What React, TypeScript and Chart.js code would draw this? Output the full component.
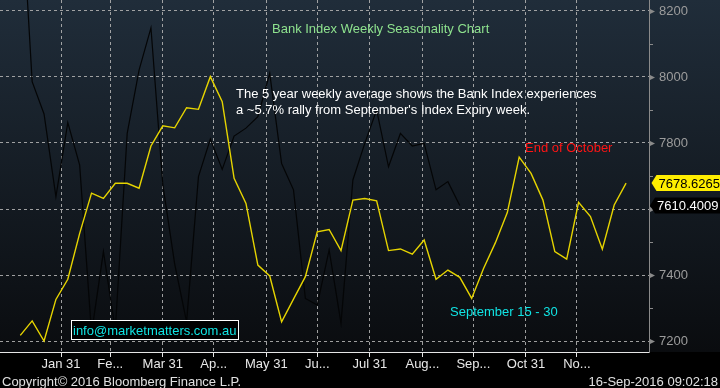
import React, { useEffect, useRef } from 'react';
import { Chart, registerables } from 'chart.js';

Chart.register(...registerables);

// ---- data ----
const FIRST_WEEK_DAY = 7; // day-of-year of the first weekly observation
const avg5Year = [
  7217, 7261, 7200, 7326, 7387, 7526, 7648, 7632, 7678, 7678, 7663, 7791, 7852,
  7846, 7907, 7902, 8001, 7925, 7693, 7617, 7430, 7397, 7258, 7327, 7395, 7531,
  7538, 7474, 7627, 7632, 7625, 7474, 7479, 7463, 7506, 7387, 7415, 7393, 7329,
  7420, 7498, 7589, 7757, 7708, 7627, 7471, 7448, 7620, 7577, 7478, 7612, 7678.6265,
];
const year2016 = [
  8606, 7986, 7888, 7637, 7862, 7733, 7224, 7471, 7233, 7829, 8021, 8149, 7674,
  7433, 7258, 7698, 7812, 7720, 7821, 7845, 7880, 8011, 7738, 7658, 7329, 7309,
  7476, 7254, 7688, 7799, 7900, 7728, 7829, 7791, 7799, 7658, 7683, 7610.4009,
];
const monthEndDays = [31, 60, 91, 121, 152, 182, 213, 244, 274, 305, 335];
const monthLabels = ['Jan 31', 'Fe...', 'Mar 31', 'Ap...', 'May 31', 'Ju...', 'Jul 31', 'Aug...', 'Sep...', 'Oct 31', 'No...'];
const yMajorTicks = [7200, 7400, 7600, 7800, 8000, 8200];
const yMinorTicks = [7300, 7500, 7700, 7900, 8100];

const X_MIN = -4.95;
const X_MAX = 377.5;
const Y_MIN = 7166.7;
const Y_MAX = 8233.3;

const FONT = '"Liberation Sans", Arial, sans-serif';

const toPoints = (vals: number[]) => vals.map((v, i) => ({ x: FIRST_WEEK_DAY + 7 * i, y: v }));

const bgPlugin = {
  id: 'bgPlugin',
  beforeDraw(chart: any) {
    const { ctx, chartArea } = chart;
    ctx.save();
    ctx.fillStyle = '#000';
    ctx.fillRect(0, 0, chart.width, chart.height);
    const g = ctx.createLinearGradient(0, 0, 0, chartArea.bottom);
    g.addColorStop(0, '#202d3a');
    g.addColorStop(1, '#0a0c0f');
    ctx.fillStyle = g;
    ctx.fillRect(0, 0, chart.width, chartArea.bottom);
    ctx.restore();
  },
};

function drawTag(ctx: CanvasRenderingContext2D, x: number, y: number, w: number, text: string, fill: string, color: string) {
  const h = 16;
  const tip = 5;
  ctx.beginPath();
  ctx.moveTo(x, y);
  ctx.lineTo(x + tip, y - h / 2);
  ctx.lineTo(x + w, y - h / 2);
  ctx.lineTo(x + w, y + h / 2);
  ctx.lineTo(x + tip, y + h / 2);
  ctx.closePath();
  ctx.fillStyle = fill;
  ctx.fill();
  ctx.fillStyle = color;
  ctx.textBaseline = 'middle';
  ctx.textAlign = 'left';
  ctx.font = `13px ${FONT}`;
  ctx.fillText(text, x + 7, y + 1);
}

const overlayPlugin = {
  id: 'overlayPlugin',
  afterDraw(chart: any) {
    const { ctx, chartArea } = chart;
    const yS = chart.scales.y;
    const right = chartArea.right;
    ctx.save();
    // right axis markers
    ctx.fillStyle = '#8a8a8a';
    ctx.strokeStyle = '#8a8a8a';
    ctx.lineWidth = 1;
    yMajorTicks.forEach((v) => {
      const py = Math.round(yS.getPixelForValue(v)) + 0.5;
      ctx.beginPath();
      ctx.moveTo(right, py - 3);
      ctx.lineTo(right + 6, py);
      ctx.lineTo(right, py + 3);
      ctx.closePath();
      ctx.fill();
    });
    yMinorTicks.forEach((v) => {
      const py = Math.round(yS.getPixelForValue(v)) + 0.5;
      ctx.beginPath();
      ctx.moveTo(right, py);
      ctx.lineTo(right + 4, py);
      ctx.stroke();
    });

    ctx.textAlign = 'left';
    ctx.textBaseline = 'alphabetic';
    ctx.font = `13px ${FONT}`;
    // title
    ctx.fillStyle = '#8ee28e';
    ctx.fillText('Bank Index Weekly Seasonality Chart', 272, 33);
    // commentary
    ctx.fillStyle = '#ffffff';
    ctx.fillText('The 5 year weekly average shows the Bank Index experiences', 236, 98);
    ctx.fillText("a ~5.7% rally from September's Index Expiry week.", 236, 114);
    // red annotation
    ctx.fillStyle = '#ff1414';
    ctx.fillText('End of October', 525, 152);
    // cyan annotation
    ctx.fillStyle = '#10e4e4';
    ctx.fillText('September 15 - 30', 450, 316);
    // email box
    ctx.fillStyle = '#000';
    ctx.fillRect(71.5, 320.5, 167, 19);
    ctx.strokeStyle = '#ffffff';
    ctx.strokeRect(71.5, 320.5, 167, 19);
    ctx.fillStyle = '#10e4e4';
    ctx.fillText('info@marketmatters.com.au', 73, 335);

    // last value tags
    const lastAvg = avg5Year[avg5Year.length - 1];
    const last2016 = year2016[year2016.length - 1];
    drawTag(ctx, right + 2.5, yS.getPixelForValue(lastAvg), 80, lastAvg.toFixed(4), '#ffee00', '#000');
    drawTag(ctx, right + 1, yS.getPixelForValue(last2016), 80, last2016.toFixed(4), '#000', '#ffffff');

    // footer
    ctx.fillStyle = '#e0e0e0';
    ctx.font = `13px ${FONT}`;
    ctx.fillText('Copyright\u00a9 2016 Bloomberg Finance L.P.', 2, 382);
    ctx.textAlign = 'right';
    ctx.fillText('16-Sep-2016 09:02:18', 718, 382);
    ctx.restore();
  },
};

export default function App() {
  const ref = useRef<HTMLCanvasElement>(null);
  useEffect(() => {
    document.body.style.margin = '0';
    const canvas = ref.current!;
    const chart = new Chart(canvas, {
      type: 'line',
      data: {
        datasets: [
          {
            label: '5 Year Average',
            data: toPoints(avg5Year),
            borderColor: '#e6d400',
            borderWidth: 1.4,
            pointRadius: 0,
            tension: 0,
          },
          {
            label: '2016',
            data: toPoints(year2016),
            borderColor: '#040506',
            borderWidth: 1.2,
            pointRadius: 0,
            tension: 0,
          },
        ],
      },
      options: {
        responsive: false,
        animation: false,
        layout: { padding: 0 },
        plugins: { legend: { display: false }, tooltip: { enabled: false }, title: { display: false } },
        scales: {
          x: {
            type: 'linear',
            position: 'bottom',
            min: X_MIN,
            max: X_MAX,
            bounds: 'data',
            afterBuildTicks: (s: any) => {
              s.ticks = monthEndDays.map((v) => ({ value: v }));
            },
            afterFit: (s: any) => {
              s.height = 36;
              s.paddingLeft = 0;
              s.paddingRight = 0;
            },
            ticks: {
              autoSkip: false,
              maxRotation: 0,
              minRotation: 0,
              color: '#e8e8e8',
              font: { family: FONT, size: 13 },
              padding: 0,
              callback: (_v: any, i: number) => monthLabels[i],
            },
            grid: {
              color: 'rgba(175,175,175,0.9)',
              lineWidth: 1,
              tickColor: '#e6e6e6',
              tickLength: 5,
              tickBorderDash: [],
              drawOnChartArea: true,
            },
            border: { display: true, color: '#e6e6e6', width: 1, dash: [3, 3] },
          },
          y: {
            type: 'linear',
            position: 'right',
            min: Y_MIN,
            max: Y_MAX,
            bounds: 'data',
            afterBuildTicks: (s: any) => {
              s.ticks = yMajorTicks.map((v) => ({ value: v }));
            },
            afterFit: (s: any) => {
              s.width = 71;
              s.paddingTop = 0;
              s.paddingBottom = 0;
            },
            ticks: {
              color: '#9c9c9c',
              font: { family: FONT, size: 13 },
              padding: 10,
              callback: (v: any) => String(v),
            },
            grid: { color: 'rgba(175,175,175,0.9)', lineWidth: 1, drawTicks: false },
            border: { display: true, color: '#8a8a8a', width: 1, dash: [3, 3] },
          },
        },
      },
      plugins: [bgPlugin, overlayPlugin],
    } as any);
    return () => chart.destroy();
  }, []);
  return (
    <div style={{ position: 'absolute', left: 0, top: 0, width: 720, height: 388, background: '#000' }}>
      <canvas ref={ref} width={720} height={388} style={{ display: 'block' }} />
    </div>
  );
}
